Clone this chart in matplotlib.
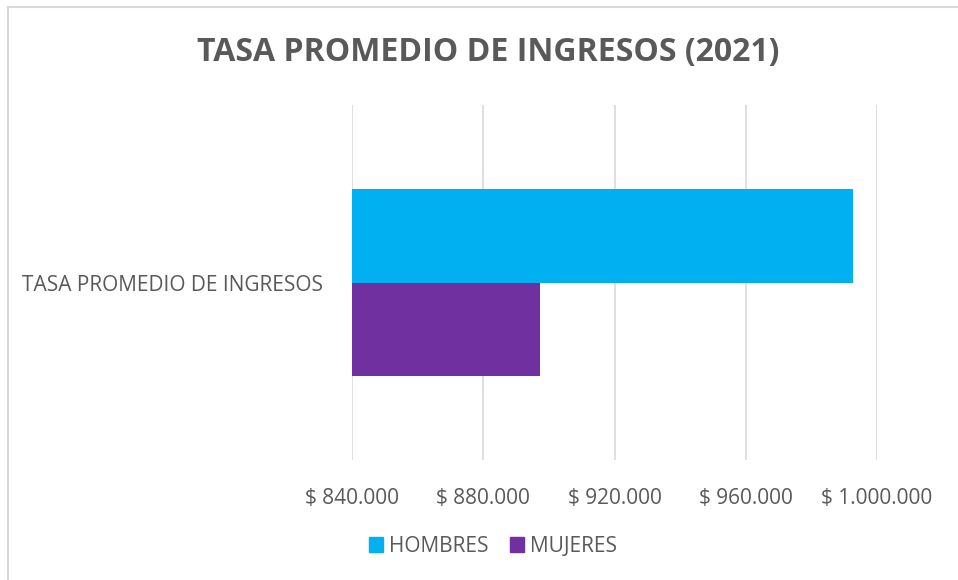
import matplotlib.pyplot as plt
from matplotlib.lines import Line2D
from matplotlib.ticker import FuncFormatter

# data
category = 'TASA PROMEDIO DE INGRESOS'
series = ['HOMBRES', 'MUJERES']
values = [992700, 897300]
colors = ['#00B0F0', '#7030A0']
x_ticks = [840000, 880000, 920000, 960000, 1000000]

plt.rcParams['font.family'] = ['Open Sans', 'DejaVu Sans']

fig = plt.figure(figsize=(9.58, 5.8), dpi=100)
ax = fig.add_axes([352 / 958, 1 - 460 / 580, 525 / 958, 355 / 580])

bar_h = 0.263
offsets = [bar_h / 2, -bar_h / 2]
for name, val, col, off in zip(series, values, colors, offsets):
    ax.barh(off, val - x_ticks[0], left=x_ticks[0], height=bar_h, color=col,
            label=name, zorder=3)

ax.set_xlim(x_ticks[0], x_ticks[-1])
ax.set_ylim(-0.5, 0.5)
ax.set_xticks(x_ticks)
ax.xaxis.set_major_formatter(FuncFormatter(lambda v, p: '$ ' + f'{int(v):,}'.replace(',', '.')))
ax.set_yticks([0])
ax.set_yticklabels([category])
ax.tick_params(axis='both', length=0, labelsize=15, colors='#595959')
ax.tick_params(axis='x', pad=20)
ax.tick_params(axis='y', pad=21)
ax.grid(axis='x', color='#D9D9D9', linewidth=1.2, zorder=0)
for s in ax.spines.values():
    s.set_visible(False)

fig.suptitle('TASA PROMEDIO DE INGRESOS (2021)', x=488 / 958, y=1 - 53 / 580, va='center',
             fontsize=23, fontweight='bold', color='#595959')

handles = [plt.Rectangle((0, 0), 1, 1, color=c) for c in colors]
fig.legend(handles, series, loc='center', bbox_to_anchor=(493 / 958, 1 - 546 / 580),
           ncol=2, frameon=False, fontsize=15, labelcolor='#595959',
           handlelength=0.7, handleheight=0.7, handletextpad=0.3, columnspacing=1.0)

# chart frame (left and top edges visible)
fig.add_artist(Line2D([8 / 958, 8 / 958], [0, 1 - 7 / 580], transform=fig.transFigure,
                      color='#D9D9D9', linewidth=1.5))
fig.add_artist(Line2D([8 / 958, 1], [1 - 7 / 580, 1 - 7 / 580], transform=fig.transFigure,
                      color='#D9D9D9', linewidth=1.5))

fig.savefig('out.png', dpi=100)
